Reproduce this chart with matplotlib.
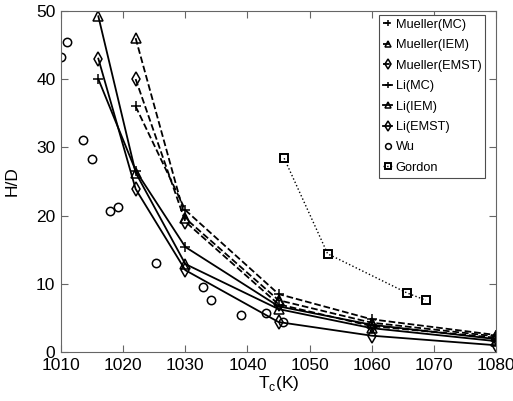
import matplotlib.pyplot as plt

plt.rcParams['font.family'] = ['Liberation Sans', 'DejaVu Sans']

# Mueller model predictions
mueller_T = [1022, 1030, 1045, 1060, 1080]
mueller_mc = [36.0, 20.8, 8.5, 4.8, 2.5]
mueller_iem = [46.0, 19.6, 7.6, 4.3, 2.3]
mueller_emst = [40.0, 19.1, 7.0, 3.8, 2.1]

# Li model predictions
li_T = [1016, 1022, 1030, 1045, 1060, 1080]
li_mc = [40.0, 26.6, 15.4, 6.7, 4.0, 1.9]
li_iem = [49.2, 26.3, 12.9, 6.3, 3.5, 1.6]
li_emst = [43.0, 23.9, 12.0, 4.4, 2.4, 1.0]

# experiments
wu_T = [1010, 1011, 1013.5, 1015, 1017.9, 1019.1, 1025.2, 1032.9, 1034.2, 1038.9, 1042.9, 1045.7]
wu_hd = [43.3, 45.4, 31.1, 28.3, 20.7, 21.3, 13.1, 9.6, 7.7, 5.4, 5.7, 4.4]
gordon_T = [1045.9, 1052.9, 1065.7, 1068.7]
gordon_hd = [28.4, 14.4, 8.65, 7.6]

fig = plt.figure(figsize=(5.13, 4.01), dpi=100)
ax = fig.add_axes([0.119, 0.122, 0.848, 0.851])

mk = dict(color='k', mfc='none', mec='k', lw=1.3, ms=7, mew=1.1)
ax.plot(mueller_T, mueller_mc, '--+', label='Mueller(MC)', **mk)
ax.plot(mueller_T, mueller_iem, '--^', label='Mueller(IEM)', **mk)
ax.plot(mueller_T, mueller_emst, '--d', label='Mueller(EMST)', **mk)
ax.plot(li_T, li_mc, '-+', label='Li(MC)', **mk)
ax.plot(li_T, li_iem, '-^', label='Li(IEM)', **mk)
ax.plot(li_T, li_emst, '-d', label='Li(EMST)', **mk)
ax.plot(wu_T, wu_hd, 'o', color='k', mfc='none', ms=6, mew=1.1, label='Wu')
ax.plot(gordon_T, gordon_hd, ':s', color='k', mfc='none', ms=5.5, mew=1.4, lw=1.0, label='Gordon')

ax.set_xlim(1010, 1080)
ax.set_ylim(0, 50)
ax.set_xticks(range(1010, 1081, 10))
ax.set_yticks(range(0, 51, 10))
for s in ax.spines.values():
    s.set_color('0.4')
ax.tick_params(direction='in', top=True, right=True, labelsize=12.5, length=5,
               color='0.4', pad=4)
ax.set_xlabel('T$_\\mathregular{c}$(K)', fontsize=12.5, labelpad=1)
ax.set_ylabel('H/D', fontsize=12.5, labelpad=12)

leg = ax.legend(loc='upper left', bbox_to_anchor=(379 / 513, 1 - 15 / 401),
                bbox_transform=fig.transFigure, fontsize=9.2, fancybox=False,
                edgecolor='0.3', framealpha=1, handlelength=0.75, labelspacing=0.66,
                borderaxespad=0, borderpad=0.3, handletextpad=0.25, markerscale=0.7)
leg.get_frame().set_linewidth(0.8)

fig.savefig('out.png', dpi=100)
